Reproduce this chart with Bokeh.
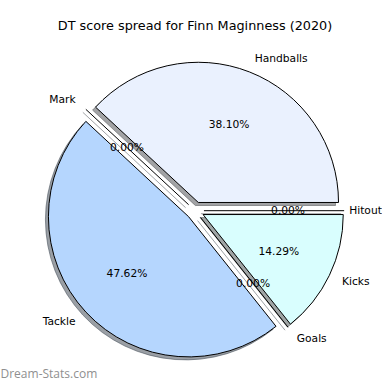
import numpy as np
from bokeh.plotting import figure
from bokeh.models import ColumnDataSource, Label, Range1d
from bokeh.core.properties import value
from bokeh.embed import file_html
from bokeh.resources import INLINE

# ---- data ----
categories = ["Handballs", "Mark", "Tackle", "Goals", "Kicks", "Hitout"]
scores = [8, 0, 10, 0, 3, 0]
colors = ["#EAF1FE", "#DDEBFF", "#B5D6FE", "#C8E6FF", "#D9FEFE", "#E0F0FF"]
title_text = "DT score spread for Finn Maginness (2020)"
watermark_text = "Dream-Stats.com"

# ---- layout / style ----
EXPLODE = 0.063
SHADOW = 0.0214
LABEL_DIST = 1.1
PCT_DIST = 0.6
W = H = 382
CX_PX, CY_PX, R_PX = 194.6, 210.2, 140.2
FONT = "DejaVu Sans"
label_nudge_px = {"Hitout": -9}

vals = np.array(scores, dtype=float)
frac = vals / vals.sum()
theta2 = np.cumsum(frac) * 2 * np.pi
theta1 = theta2 - frac * 2 * np.pi
mid = (theta1 + theta2) / 2
ox = EXPLODE * np.cos(mid)
oy = EXPLODE * np.sin(mid)


def shade(hexc):
    h = hexc.lstrip("#")
    r, g, b = (int(h[i:i + 2], 16) for i in (0, 2, 4))
    return "#%02x%02x%02x" % (int(r * 0.3), int(g * 0.3), int(b * 0.3))


shadow_colors = [shade(c) for c in colors]
nz = vals > 0
zz = ~nz

wedges = ColumnDataSource(dict(
    x=ox[nz], y=oy[nz], sx=ox[nz] - SHADOW, sy=oy[nz] - SHADOW,
    a0=theta1[nz], a1=theta2[nz],
    color=[c for c, k in zip(colors, nz) if k],
    scolor=[c for c, k in zip(shadow_colors, nz) if k],
))
zeros = ColumnDataSource(dict(
    x0=ox[zz], y0=oy[zz],
    x1=ox[zz] + np.cos(mid[zz]), y1=oy[zz] + np.sin(mid[zz]),
    sx0=ox[zz] - SHADOW, sy0=oy[zz] - SHADOW,
    sx1=ox[zz] + np.cos(mid[zz]) - SHADOW, sy1=oy[zz] + np.sin(mid[zz]) - SHADOW,
    scolor=[c for c, k in zip(shadow_colors, zz) if k],
))
labels = ColumnDataSource(dict(
    x=ox + LABEL_DIST * np.cos(mid), y=oy + LABEL_DIST * np.sin(mid),
    text=categories,
    align=["right" if np.cos(m) < -1e-9 else "left" for m in mid],
    dx=[label_nudge_px.get(c, 0) for c in categories],
))
pcts = ColumnDataSource(dict(
    x=ox + PCT_DIST * np.cos(mid), y=oy + PCT_DIST * np.sin(mid),
    text=["%1.2f%%" % (f * 100) for f in frac],
))

x0 = -CX_PX / R_PX
x1 = (W - CX_PX) / R_PX
y1 = CY_PX / R_PX
y0 = -(H - CY_PX) / R_PX

p = figure(width=W, height=H, output_backend="svg", toolbar_location=None,
           x_range=Range1d(x0, x1), y_range=Range1d(y0, y1),
           min_border=0, background_fill_color="white",
           border_fill_color="white")
p.axis.visible = False
p.grid.visible = False
p.outline_line_color = None

# shadows
p.wedge(x="sx", y="sy", radius=1, start_angle="a0", end_angle="a1",
        fill_color="scolor", fill_alpha=0.5, line_color="scolor",
        line_alpha=0.5, line_width=1, source=wedges)
p.segment(x0="sx0", y0="sy0", x1="sx1", y1="sy1", line_color="scolor",
          line_alpha=0.5, line_width=1, source=zeros)
# wedges
p.wedge(x="x", y="y", radius=1, start_angle="a0", end_angle="a1",
        fill_color="color", line_color="black", line_width=1, source=wedges)
p.segment(x0="x0", y0="y0", x1="x1", y1="y1", line_color="black",
          line_width=1, source=zeros)

p.text(x="x", y="y", text="text", text_align="align", text_baseline="middle",
       x_offset="dx",
       text_font=value(FONT), text_font_size="10.7px", text_color="black",
       source=labels)
p.text(x="x", y="y", text="text", text_align="center", text_baseline="middle",
       text_font=value(FONT), text_font_size="10.7px", text_color="black",
       source=pcts)

p.add_layout(Label(x=194.5, y=H - 25, x_units="screen", y_units="screen",
                   text=title_text, text_align="center", text_baseline="middle",
                   text_font=FONT, text_font_size="12.8px", text_color="black"))
p.add_layout(Label(x=0, y=1, x_units="screen", y_units="screen",
                   text=watermark_text, text_align="left",
                   text_baseline="bottom",
                   text_font="Open Sans", text_font_size="12px",
                   text_color="#8f8f8f"))

open("out.html", "w").write(file_html(p, INLINE))
